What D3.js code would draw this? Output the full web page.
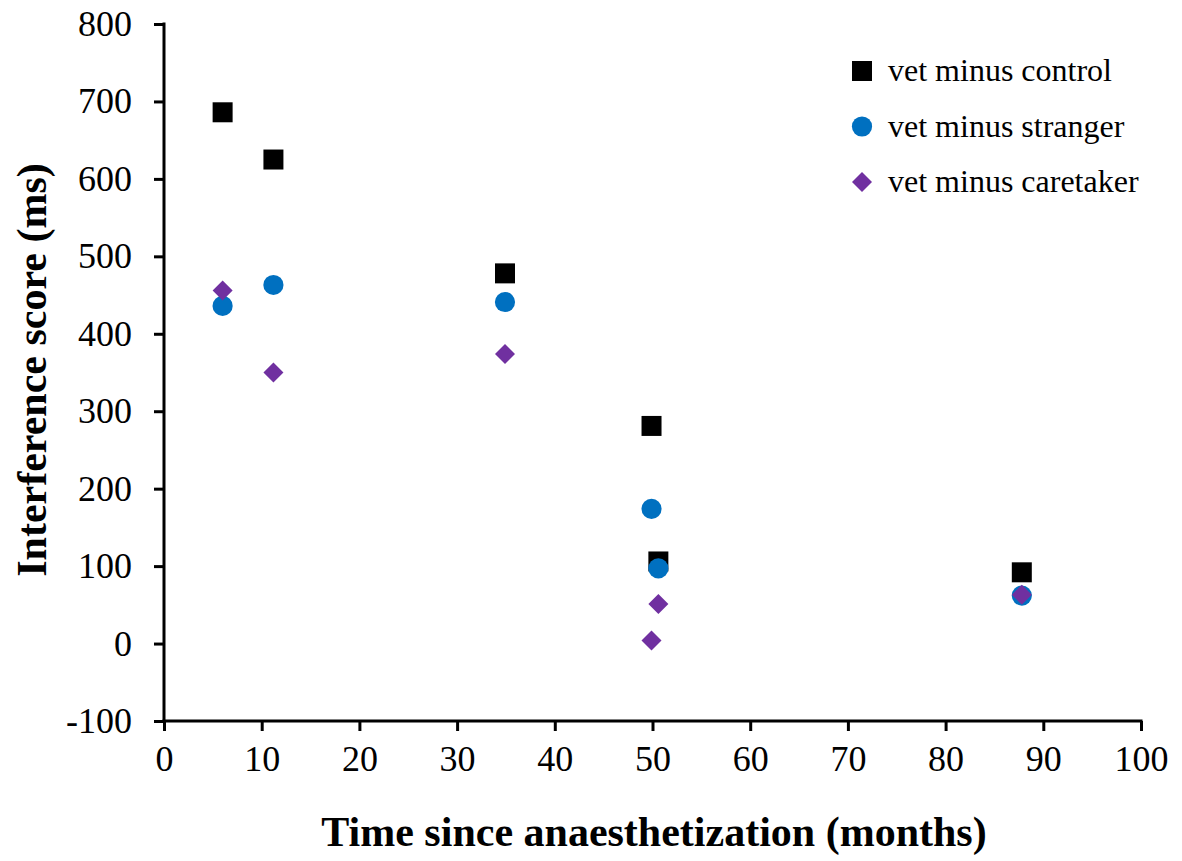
<!DOCTYPE html>
<html><head><meta charset="utf-8">
<script src="https://cdn.jsdelivr.net/npm/d3@7"></script>
<style>body{margin:0;background:#fff}svg{display:block}text{font-family:"Liberation Serif","Times New Roman",serif}</style>
</head><body><svg id="c" width="1182" height="861"></svg>
<script>
const seriesNames = ["vet minus control","vet minus stranger","vet minus caretaker"];
const controlX = [6, 11.2, 34.9, 49.9, 50.6, 87.8];
const controlY = [686, 625, 478, 281, 106, 92];
const strangerX = [6, 11.2, 34.9, 49.9, 50.6, 87.8];
const strangerY = [436, 463, 441, 174, 97, 62];
const caretakerX = [6, 11.2, 34.9, 49.9, 50.6, 87.8];
const caretakerY = [456, 350, 374, 4, 51, 63];
const xTicks = [0,10,20,30,40,50,60,70,80,90,100];
const yTicks = [-100,0,100,200,300,400,500,600,700,800];

const svg = d3.select("#c");
const x = d3.scaleLinear().domain([0,100]).range([164,1141]);
const y = d3.scaleLinear().domain([-100,800]).range([721,24]);
const fmt = d => String(d);

const xAxis = svg.append("g").attr("transform","translate(0,721)")
  .call(d3.axisBottom(x).tickValues(xTicks).tickFormat(fmt).tickSize(10).tickSizeOuter(0).tickPadding(14));
const yAxis = svg.append("g").attr("transform","translate(164,0)")
  .call(d3.axisLeft(y).tickValues(yTicks).tickFormat(fmt).tickSize(10).tickSizeOuter(0).tickPadding(22));
[xAxis,yAxis].forEach(a=>{
  a.select(".domain").attr("stroke","#000").attr("stroke-width",3);
  a.selectAll(".tick line").attr("stroke","#000").attr("stroke-width",3);
  a.selectAll(".tick text").attr("font-size",36).attr("fill","#000")
   .style("font-family",'"Liberation Serif","Times New Roman",serif');
});
yAxis.select(".domain").attr("d","M0,22.5V722.5");
xAxis.select(".domain").attr("d","M162.5,0H1142.5");
xAxis.selectAll(".tick text").attr("dy","0.71em");

const sym = {
  square: d3.symbol().type(d3.symbolSquare).size(400),
  circle: d3.symbol().type(d3.symbolCircle).size(320),
  diamond: d3.symbol().type(d3.symbolSquare).size(200)
};
const series = [
  {xs:controlX, ys:controlY, path:sym.square, color:"#000000", rot:0},
  {xs:strangerX, ys:strangerY, path:sym.circle, color:"#0070C0", rot:0},
  {xs:caretakerX, ys:caretakerY, path:sym.diamond, color:"#7030A0", rot:45}
];
series.forEach(s=>{
  svg.append("g").selectAll("path").data(s.xs.map((v,i)=>[v,s.ys[i]])).join("path")
    .attr("d",s.path())
    .attr("transform",d=>`translate(${x(d[0])},${y(d[1])}) rotate(${s.rot})`)
    .attr("fill",s.color);
});

// legend
const leg = svg.append("g");
seriesNames.forEach((n,i)=>{
  const cy = 71 + i*55.5;
  const s = series[i];
  leg.append("path").attr("d", s.path()).attr("fill", s.color)
    .attr("transform",`translate(862,${cy}) rotate(${s.rot})`);
  leg.append("text").attr("x",888).attr("y",cy+10).attr("font-size",32).text(n);
});

svg.append("text").attr("x",654).attr("y",846).attr("text-anchor","middle")
  .attr("font-size",42).attr("font-weight","bold").text("Time since anaesthetization (months)");
svg.append("text").attr("transform","translate(46,370) rotate(-90)").attr("text-anchor","middle")
  .attr("font-size",42).attr("font-weight","bold").text("Interference score (ms)");
</script></body></html>
